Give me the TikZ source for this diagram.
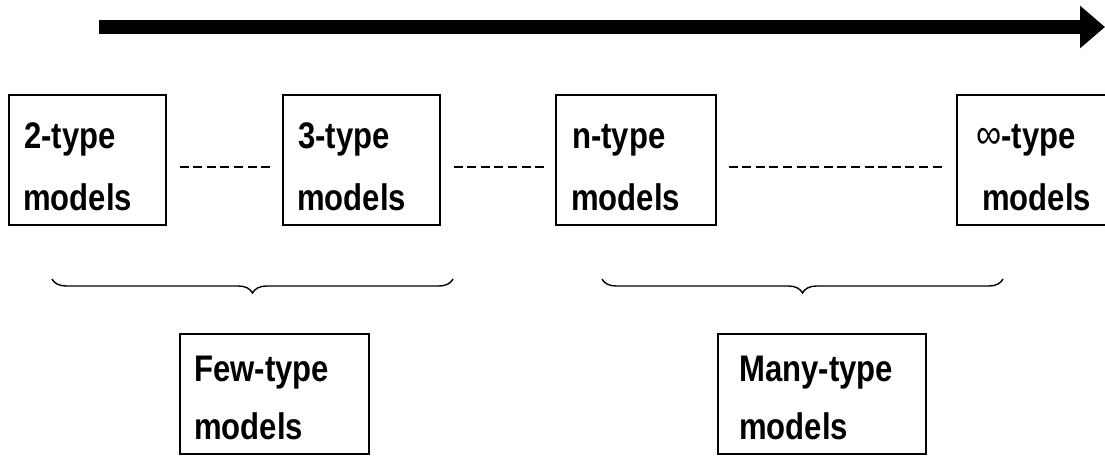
\documentclass[tikz,border=0pt]{standalone}
\usepackage{fontspec}
\setmainfont[FakeStretch=0.84]{Liberation Sans}
\usetikzlibrary{arrows.meta,decorations.pathreplacing}
\begin{document}
\begin{tikzpicture}[x=1pt,y=-1pt,
  box/.style={draw,line width=1.6pt,anchor=north west,inner sep=0pt},
  lbl/.style={anchor=base west,inner sep=0pt,font=\fontsize{37}{40}\selectfont\bfseries},
  dashline/.style={line width=1.8pt,dash pattern=on 9pt off 4.6pt},
  bracestyle/.style={line width=1.4pt,decorate,decoration={brace,mirror,amplitude=14pt}}]
\useasboundingbox (0,0) rectangle (1105,455);
% timeline arrow
\coordinate (a1) at (99,27);
\coordinate (a2) at (1105,27);
\draw[line width=14pt,-{Triangle[length=25pt,width=41pt]}] (a1) -- (a2);
% top boxes
\node[box,minimum width=157pt,minimum height=130pt] (b1) at (8,94) {};
\node[box,minimum width=157pt,minimum height=130pt] (b2) at (282,94) {};
\node[box,minimum width=160pt,minimum height=130pt] (b3) at (555,94) {};
\node[box,minimum width=160pt,minimum height=130pt] (b4) at (956,94) {};
\node[lbl] (t1a) at (24,148) {2-type};
\node[lbl] (t1b) at (23,210) {models};
\node[lbl] (t2a) at (298,148) {3-type};
\node[lbl] (t2b) at (297,210) {models};
\node[lbl] (t3a) at (572,148) {n-type};
\node[lbl] (t3b) at (571,210) {models};
\node[lbl] (t4a) at (976,148) {{\mdseries\fontsize{42}{42}\selectfont ∞}-type};
\node[lbl] (t4b) at (982,210) {models};
% dashed connectors
\draw[dashline] ([shift={(13pt,-7pt)}]b1.east) -- ([shift={(-12pt,-7pt)}]b2.west);
\draw[dashline] ([shift={(13pt,-7pt)}]b2.east) -- ([shift={(-10pt,-7pt)}]b3.west);
\draw[dashline] ([shift={(12pt,-7pt)}]b3.east) -- ([shift={(-12pt,-7pt)}]b4.west);
% braces
\coordinate (br1a) at (52,279);
\coordinate (br1b) at (453,279);
\coordinate (br2a) at (602,279);
\coordinate (br2b) at (1003,279);
\draw[bracestyle] (br1a) -- (br1b);
\draw[bracestyle] (br2a) -- (br2b);
% bottom boxes
\node[box,minimum width=189pt,minimum height=120pt] (few) at (179,333) {};
\node[box,minimum width=208pt,minimum height=120pt] (many) at (717,333) {};
\node[lbl] (f1) at (194,381) {Few-type};
\node[lbl] (f2) at (194,439) {models};
\node[lbl] (m1) at (739,381) {Many-type};
\node[lbl] (m2) at (739,439) {models};
\end{tikzpicture}
\end{document}
